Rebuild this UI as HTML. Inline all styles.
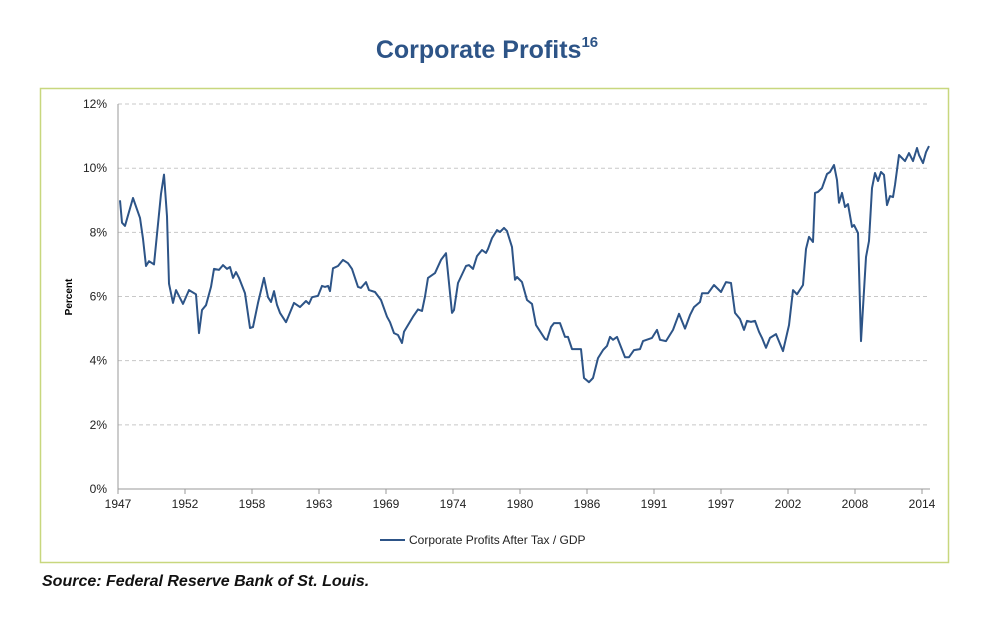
<!DOCTYPE html>
<html><head><meta charset="utf-8"><style>
body{margin:0;background:#fff;width:1000px;height:627px;overflow:hidden;font-family:"Liberation Sans",sans-serif;}
</style></head><body>
<svg width="1000" height="627" viewBox="0 0 1000 627" xmlns="http://www.w3.org/2000/svg">
<text x="487" y="58" text-anchor="middle" font-family="Liberation Sans, sans-serif" font-weight="bold" font-size="25" fill="#2d5487">Corporate Profits<tspan font-size="15" dy="-11">16</tspan></text>
<rect x="40.5" y="88.5" width="908" height="474" fill="none" stroke="#c8d77e" stroke-width="1.5"/>
<g id="grid"></g>
<g id="axes"></g>
<path id="line" fill="none" stroke="#2d5487" stroke-width="2" stroke-linejoin="round"/>
<text x="72" y="297" transform="rotate(-90 72 297)" text-anchor="middle" font-size="10" font-weight="bold" fill="#000">Percent</text>
<g>
<line x1="380" y1="540" x2="405" y2="540" stroke="#2d5487" stroke-width="2"/>
<text x="409" y="544" font-size="12" fill="#222">Corporate Profits After Tax / GDP</text>
</g>
<text x="42" y="586" font-size="16" font-style="italic" font-weight="bold" fill="#111">Source: Federal Reserve Bank of St. Louis.</text>
</svg>
<script>
const years=[1947.17,1947.33,1947.58,1948.25,1948.83,1949.08,1949.33,1949.58,1950.0,1950.58,1950.83,1951.08,1951.25,1951.58,1951.83,1952.42,1952.92,1953.5,1953.75,1954.0,1954.33,1954.75,1955.0,1955.42,1955.75,1956.08,1956.33,1956.58,1956.83,1957.08,1957.58,1958.0,1958.25,1958.67,1959.17,1959.5,1959.75,1960.0,1960.25,1960.5,1961.0,1961.67,1962.17,1962.67,1962.92,1963.17,1963.67,1964.0,1964.25,1964.5,1964.67,1964.92,1965.33,1965.75,1966.17,1966.5,1967.0,1967.25,1967.67,1967.92,1968.42,1968.92,1969.42,1969.67,1970.0,1970.33,1970.67,1970.83,1971.58,1972.0,1972.33,1972.58,1972.83,1973.42,1973.92,1974.33,1974.83,1975.0,1975.33,1976.0,1976.25,1976.58,1976.92,1977.33,1977.67,1977.83,1978.17,1978.58,1978.83,1979.17,1979.42,1979.83,1980.08,1980.25,1980.67,1981.08,1981.5,1981.83,1982.58,1982.75,1983.08,1983.33,1983.83,1984.25,1984.5,1984.83,1985.58,1985.83,1986.25,1986.58,1987.0,1987.42,1987.75,1988.0,1988.25,1988.58,1989.25,1989.58,1990.0,1990.5,1990.75,1991.5,1991.92,1992.17,1992.67,1993.25,1993.75,1994.25,1994.67,1995.0,1995.5,1995.67,1996.17,1996.67,1997.25,1997.42,1997.67,1998.08,1998.42,1998.83,1999.17,1999.42,1999.75,2000.08,2000.42,2000.67,2001.0,2001.33,2001.83,2002.42,2002.92,2003.25,2003.58,2004.08,2004.33,2004.58,2004.92,2005.08,2005.33,2005.67,2006.08,2006.33,2006.67,2006.92,2007.08,2007.33,2007.58,2007.83,2008.17,2008.33,2008.67,2008.92,2009.33,2009.58,2009.83,2010.08,2010.33,2010.58,2010.83,2011.08,2011.33,2011.58,2011.75,2012.08,2012.58,2012.92,2013.25,2013.58,2013.75,2014.08,2014.33,2014.58];
const values=[9.0,8.3,8.2,9.07,8.45,7.8,6.95,7.1,7.0,9.2,9.8,8.5,6.4,5.8,6.2,5.77,6.2,6.07,4.86,5.58,5.73,6.3,6.86,6.83,6.98,6.86,6.92,6.58,6.76,6.58,6.1,5.02,5.05,5.8,6.58,5.98,5.83,6.17,5.74,5.49,5.2,5.8,5.67,5.86,5.77,5.98,6.02,6.33,6.3,6.33,6.17,6.88,6.95,7.14,7.04,6.86,6.3,6.27,6.45,6.2,6.14,5.89,5.37,5.2,4.86,4.8,4.55,4.9,5.37,5.6,5.55,6.0,6.58,6.73,7.14,7.35,5.49,5.58,6.42,6.95,6.98,6.86,7.26,7.45,7.36,7.48,7.82,8.07,8.01,8.14,8.04,7.54,6.52,6.61,6.45,5.89,5.77,5.11,4.68,4.65,5.05,5.17,5.17,4.74,4.74,4.36,4.36,3.46,3.33,3.46,4.08,4.33,4.46,4.74,4.65,4.74,4.11,4.11,4.33,4.36,4.61,4.71,4.96,4.65,4.61,4.96,5.46,5.0,5.42,5.67,5.83,6.1,6.1,6.36,6.14,6.27,6.45,6.42,5.49,5.3,4.96,5.24,5.21,5.24,4.9,4.71,4.4,4.71,4.83,4.3,5.11,6.2,6.07,6.36,7.48,7.86,7.7,9.23,9.26,9.38,9.82,9.88,10.1,9.63,8.92,9.23,8.79,8.88,8.17,8.23,7.98,4.61,7.23,7.73,9.38,9.85,9.6,9.88,9.79,8.85,9.13,9.1,9.48,10.41,10.22,10.47,10.22,10.63,10.41,10.16,10.5,10.69,10.32,10.69];
const yTicks=[0,2,4,6,8,10,12];
const xTickLabels=['1947','1952','1958','1963','1969','1974','1980','1986','1991','1997','2002','2008','2014'];
const NS='http://www.w3.org/2000/svg';
const X=y=>118+(y-1947)*12;
const Y=v=>489-v*32.08;
const grid=document.getElementById('grid'),axes=document.getElementById('axes');
function mk(tag,attrs,parent){const e=document.createElementNS(NS,tag);for(const k in attrs)e.setAttribute(k,attrs[k]);parent.appendChild(e);return e;}
yTicks.forEach(t=>{
  if(t>0){const g=mk('line',{x1:118,x2:930,y1:Y(t),y2:Y(t),stroke:'#c8c8c8','stroke-dasharray':'4,3'},grid);
  
  }
  const tl=mk('text',{x:107,y:Y(t)+4,'text-anchor':'end','font-size':12,fill:'#222'},axes);
  tl.textContent=t+'%';
  
  
});
const ya=mk('line',{x1:118,x2:118,y1:Y(12),y2:489,stroke:'#999'},axes);


const xa=mk('line',{x1:118,x2:930,y1:489,y2:489,stroke:'#999'},axes);


xTickLabels.forEach((l,i)=>{
  const x=X(1947+i*67/12);
  mk('line',{x1:x,x2:x,y1:489,y2:494,stroke:'#999'},axes);
  const t=mk('text',{x:x,y:508,'text-anchor':'middle','font-size':12,fill:'#222'},axes);
  t.textContent=l;
  
  
});
document.getElementById('line').setAttribute('d',years.map((y,i)=>(i?'L':'M')+X(y).toFixed(1)+','+Y(values[i]).toFixed(1)).join(''));
</script>
</body></html>
